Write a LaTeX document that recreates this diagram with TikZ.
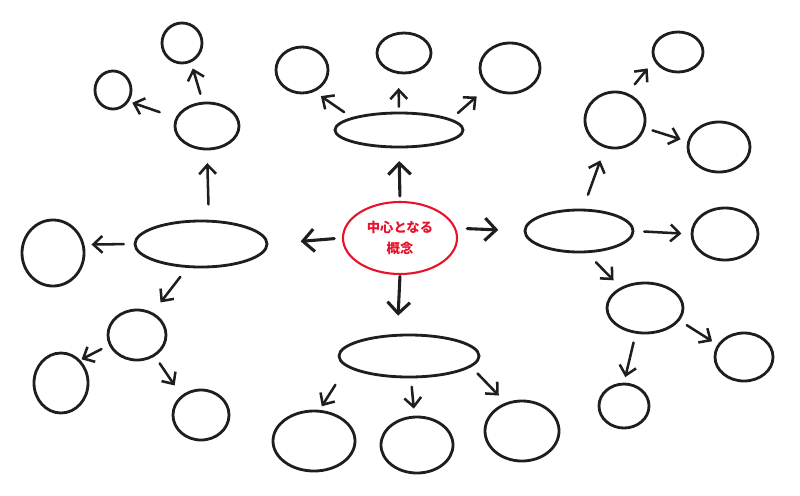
\documentclass[tikz,border=0pt]{standalone}
\usepackage{fontspec}
\newfontfamily\jpfont{Noto Sans CJK JP}
\usetikzlibrary{shapes.geometric,arrows.meta}
\definecolor{ink}{HTML}{1E1E1E}
\definecolor{hot}{HTML}{E8132B}
\tikzstyle{bub}=[ellipse,draw=ink,line width=2pt,inner sep=0pt]
\tikzstyle{core}=[ellipse,draw=hot,line width=1.5pt,text=hot,align=center,inner sep=0pt,minimum width=2.85cm,minimum height=1.8cm,font=\jpfont\bfseries\fontsize{9.5}{15.5}\selectfont]
\tikzstyle{arr}=[-{Straight Barb[length=6.5pt,width=12pt]},draw=ink,line width=1.8pt,line cap=round]
\tikzstyle{bigarr}=[-{Straight Barb[length=8pt,width=16pt]},draw=ink,line width=2.2pt,line cap=round]

\begin{document}
\begin{tikzpicture}[x=0.025cm,y=-0.025cm]
\useasboundingbox (0,0) rectangle (800,495);
\node[core] (c) at (400,238) {中心となる\\概念};
\node[bub,minimum width=3.2cm,minimum height=0.85cm] (t) at (399,130) {};
\node[bub,minimum width=1.3cm,minimum height=1.15cm] (t1) at (302,70) {};
\node[bub,minimum width=1.35cm,minimum height=1cm] (t2) at (404,53) {};
\node[bub,minimum width=1.5cm,minimum height=1.25cm] (t3) at (510,68) {};
\node[bub,minimum width=3.3cm,minimum height=1.15cm] (l) at (201,244) {};
\node[bub,minimum width=1.6cm,minimum height=1.15cm] (l1) at (207,126) {};
\node[bub,minimum width=1cm,minimum height=1cm] (l1a) at (182,43) {};
\node[bub,minimum width=0.9cm,minimum height=0.95cm] (l1b) at (113,90) {};
\node[bub,minimum width=1.55cm,minimum height=1.65cm] (l2) at (53,253) {};
\node[bub,minimum width=1.45cm,minimum height=1.25cm] (l3) at (137,335) {};
\node[bub,minimum width=1.35cm,minimum height=1.5cm] (l3a) at (61,383) {};
\node[bub,minimum width=1.4cm,minimum height=1.25cm] (l3b) at (201,415) {};
\node[bub,minimum width=3.5cm,minimum height=1.05cm] (b) at (409,356) {};
\node[bub,minimum width=2.05cm,minimum height=1.5cm] (b1) at (314,441) {};
\node[bub,minimum width=1.8cm,minimum height=1.4cm] (b2) at (417,445) {};
\node[bub,minimum width=1.85cm,minimum height=1.5cm] (b3) at (522,431) {};
\node[bub,minimum width=2.7cm,minimum height=1.05cm] (r) at (579,231) {};
\node[bub,minimum width=1.5cm,minimum height=1.4cm] (r1) at (615,120) {};
\node[bub,minimum width=1.25cm,minimum height=1cm] (r1a) at (678,52) {};
\node[bub,minimum width=1.55cm,minimum height=1.25cm] (r1b) at (719,147) {};
\node[bub,minimum width=1.65cm,minimum height=1.3cm] (r2) at (725,234) {};
\node[bub,minimum width=1.9cm,minimum height=1.25cm] (r3) at (645,308) {};
\node[bub,minimum width=1.45cm,minimum height=1.2cm] (r3a) at (744,357) {};
\node[bub,minimum width=1.25cm,minimum height=1.1cm] (r3b) at (624,406) {};
\draw[bigarr,shorten <=3.5pt,shorten >=9pt] (c.90) -- (t.-90);
\draw[bigarr,shorten <=1pt,shorten >=13pt] (c.-90) -- (b.118);
\draw[bigarr,shorten <=5.5pt,shorten >=23pt] (c.180) -- (l.0);
\draw[bigarr,shorten <=8pt,shorten >=18pt] (c.10) -- (r.180);
\draw[arr,shorten <=6.5pt,shorten >=5.5pt] (t.165) -- (t1.-60);
\draw[arr,shorten <=3.5pt,shorten >=10pt] (t.90) -- (t2.-105);
\draw[arr,shorten <=6.5pt,shorten >=10.5pt] (t.12) -- (t3.220);
\draw[arr,shorten <=11pt,shorten >=9pt] (l.72) -- (l1.-90);
\draw[arr,shorten <=6pt,shorten >=4.5pt] (l1.100) -- (l1a.-65);
\draw[arr,shorten <=12pt,shorten >=2.5pt] (l1.165) -- (l1b.-36);
\draw[arr,shorten <=7pt,shorten >=5pt] (l.180) -- (l2.15);
\draw[arr,shorten <=8pt,shorten >=9pt] (l.-120) -- (l3.55);
\draw[arr,shorten <=6pt,shorten >=1pt] (l3.200) -- (l3a.50);
\draw[arr,shorten <=6pt,shorten >=8.5pt] (l3.-50) -- (l3b.135);
\draw[arr,shorten <=15pt,shorten >=3pt] (b.-170) -- (b1.80);
\draw[arr,shorten <=6pt,shorten >=5pt] (b.-85) -- (b2.95);
\draw[arr,shorten <=6.5pt,shorten >=7pt] (b.-10) -- (b3.120);
\draw[arr,shorten <=10.5pt,shorten >=9.5pt] (r.80) -- (r1.-110);
\draw[arr,shorten <=8pt,shorten >=7pt] (r1.65) -- (r1a.200);
\draw[arr,shorten <=5.5pt,shorten >=5pt] (r1.-15) -- (r1b.170);
\draw[arr,shorten <=7pt,shorten >=6.5pt] (r.0) -- (r2.180);
\draw[arr,shorten <=9pt,shorten >=7pt] (r.-70) -- (r3.140);
\draw[arr,shorten <=6pt,shorten >=4.5pt] (r3.-20) -- (r3a.155);
\draw[arr,shorten <=6.5pt,shorten >=4pt] (r3.-110) -- (r3b.90);
\end{tikzpicture}
\end{document}
